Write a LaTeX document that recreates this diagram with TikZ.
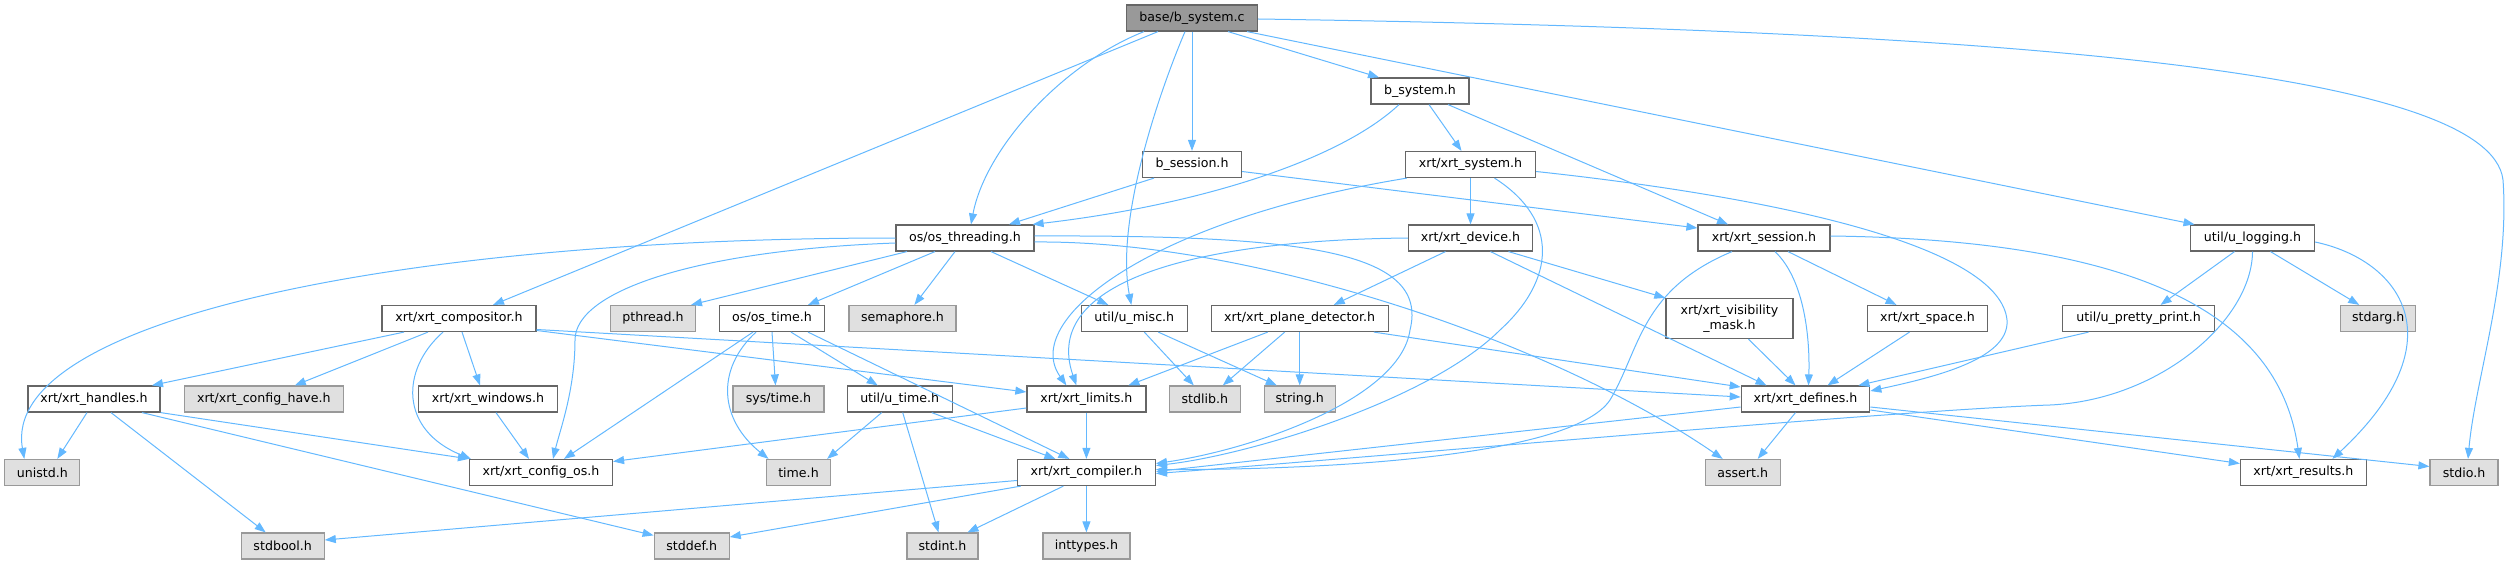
\documentclass[tikz,border=0pt]{standalone}
\usepackage{fontspec}
\setmainfont{DejaVu Sans}
\usetikzlibrary{arrows.meta}
\definecolor{edgec}{HTML}{63B8FF}
\definecolor{bord}{HTML}{666666}
\definecolor{bordg}{HTML}{999999}
\definecolor{fillg}{HTML}{E0E0E0}
\definecolor{rootf}{HTML}{999999}
\tikzset{
  nd/.style={draw=bord, line width=1.2pt, fill=white, minimum height=26pt, inner sep=0pt, align=center,
    font=\fontsize{12.6}{14.5}\selectfont},
  sysn/.style={nd, draw=bordg, fill=fillg},
  rootn/.style={nd, fill=rootf},
  e/.style={draw=edgec, line width=1pt, -{Triangle[length=11pt,width=8pt]}}
}
\begin{document}
\begin{tikzpicture}[x=1pt,y=-1pt]
\useasboundingbox (0,0) rectangle (2507,564);
% nodes
\node[rootn, minimum width=131pt] (root) at (1192,18) {base/b\_system.c};
\node[nd, minimum width=98pt] (bsysh) at (1420,91) {b\_system.h};
\node[nd, minimum width=99pt] (bsess) at (1192,164.5) {b\_session.h};
\node[nd, minimum width=130pt] (xsys) at (1470.5,164.5) {xrt/xrt\_system.h};
\node[nd, minimum width=138pt] (osthr) at (965,238) {os/os\_threading.h};
\node[nd, minimum width=124pt] (xdev) at (1470.5,238) {xrt/xrt\_device.h};
\node[nd, minimum width=132pt] (xsess) at (1764,238) {xrt/xrt\_session.h};
\node[nd, minimum width=124pt] (ulog) at (2252.5,238) {util/u\_logging.h};
\node[nd, minimum width=154pt] (xcomp) at (459,318.5) {xrt/xrt\_compositor.h};
\node[sysn, minimum width=85pt] (pthr) at (653,318.5) {pthread.h};
\node[nd, minimum width=105pt] (ostime) at (772,318.5) {os/os\_time.h};
\node[sysn, minimum width=107pt] (sema) at (902.4,318.5) {semaphore.h};
\node[nd, minimum width=106pt] (umisc) at (1134.3,318.5) {util/u\_misc.h};
\node[nd, minimum width=177pt] (xplane) at (1299.7,318.5) {xrt/xrt\_plane\_detector.h};
\node[nd, minimum width=127pt, minimum height=40pt] (xvis) at (1729.4,318.5) {xrt/xrt\_visibility\\\_mask.h};
\node[nd, minimum width=120pt] (xspace) at (1927.5,318.5) {xrt/xrt\_space.h};
\node[nd, minimum width=152pt] (upretty) at (2138.6,318.5) {util/u\_pretty\_print.h};
\node[sysn, minimum width=75pt] (stdarg) at (2378.2,318.5) {stdarg.h};
\node[nd, minimum width=132pt] (xhand) at (94,399) {xrt/xrt\_handles.h};
\node[sysn, minimum width=159pt] (xchave) at (263.8,399) {xrt/xrt\_config\_have.h};
\node[nd, minimum width=139pt] (xwin) at (488,399) {xrt/xrt\_windows.h};
\node[sysn, minimum width=91pt] (systime) at (778.5,399) {sys/time.h};
\node[nd, minimum width=105pt] (utime) at (899.7,399) {util/u\_time.h};
\node[nd, minimum width=119pt] (xlim) at (1086.4,399) {xrt/xrt\_limits.h};
\node[sysn, minimum width=71pt] (stdlib) at (1204.8,399) {stdlib.h};
\node[sysn, minimum width=71pt] (string) at (1299.7,399) {string.h};
\node[nd, minimum width=128.5pt] (xdef) at (1805.5,399) {xrt/xrt\_defines.h};
\node[sysn, minimum width=75pt] (unistd) at (42.3,472.5) {unistd.h};
\node[nd, minimum width=143pt] (xcos) at (541,472.5) {xrt/xrt\_config\_os.h};
\node[sysn, minimum width=64pt] (timeh) at (798.5,472.5) {time.h};
\node[nd, minimum width=138pt] (xcomp2) at (1086.4,472.5) {xrt/xrt\_compiler.h};
\node[sysn, minimum width=75pt] (assert) at (1742.7,472.5) {assert.h};
\node[nd, minimum width=126pt] (xres) at (2303.4,472.5) {xrt/xrt\_results.h};
\node[sysn, minimum width=68pt] (stdio) at (2464,472.5) {stdio.h};
\node[sysn, minimum width=83pt] (stdbool) at (282.7,546) {stdbool.h};
\node[sysn, minimum width=75pt] (stddef) at (691.7,546) {stddef.h};
\node[sysn, minimum width=71pt] (stdint) at (942.5,546) {stdint.h};
\node[sysn, minimum width=87pt] (inttypes) at (1086.4,546) {inttypes.h};
% root edges
\draw[e] ([xshift=36pt]root.south) -- ([xshift=-41pt]bsysh.north);
\draw[e] (root.south) -- (bsess.north);
\draw[e] ([xshift=-48pt]root.south) .. controls (1060,65) and (985,150) .. ([xshift=6pt]osthr.north);
\draw[e] ([xshift=-34pt]root.south) -- ([xshift=34pt]xcomp.north);
\draw[e] ([xshift=-7pt]root.south) .. controls (1160,90) and (1115,220) .. ([xshift=-3pt]umisc.north);
\draw[e] ([xshift=55pt]root.south) -- ([xshift=-58pt]ulog.north);
\draw[e] ([yshift=-1pt]root.east) .. controls (2000,30) and (2490,70) .. (2503,180) .. controls (2510,280) and (2475,380) .. ([xshift=4pt]stdio.north);
% b_system.h
\draw[e] ([xshift=-21pt]bsysh.south) .. controls (1340,160) and (1200,205) .. ([xshift=-2pt]osthr.north east);
\draw[e] ([xshift=9pt]bsysh.south) -- ([xshift=-9pt]xsys.north);
\draw[e] ([xshift=28pt]bsysh.south) -- ([xshift=-36pt]xsess.north);
% b_session.h
\draw[e] ([xshift=-38pt]bsess.south) -- ([xshift=44pt]osthr.north);
\draw[e] ([yshift=-7pt]bsess.east) -- ([yshift=10pt]xsess.west);
% xrt_system.h
\draw[e] (xsys.south) -- (xdev.north);
\draw[e] ([xshift=2pt]xsys.south west) .. controls (1150,220) and (1020,320) .. ([xshift=-20pt]xlim.north);
\draw[e] ([xshift=24pt]xsys.south) .. controls (1560,220) and (1555,280) .. (1500,330) .. controls (1430,400) and (1250,455) .. ([yshift=7pt]xcomp2.east);
\draw[e] ([yshift=-7pt]xsys.east) .. controls (1800,200) and (2000,250) .. (2007,320) .. controls (2010,360) and (1930,378) .. ([yshift=8pt]xdef.east);
% xrt_device.h
\draw[e] ([xshift=-25pt]xdev.south) -- ([xshift=34pt]xplane.north);
\draw[e] ([xshift=20pt]xdev.south) -- ([xshift=-39pt]xdef.north);
\draw[e] ([xshift=38pt]xdev.south) -- (xvis.north west);
\draw[e] (xdev.west) .. controls (1200,240) and (1040,280) .. ([xshift=-10pt]xlim.north);
% xrt_session.h
\draw[e] ([xshift=24pt]xsess.south) -- ([xshift=-31pt]xspace.north);
\draw[e] ([xshift=11pt]xsess.south) .. controls (1805,280) and (1810,340) .. ([xshift=3pt]xdef.north);
\draw[e] ([xshift=-32pt]xsess.south) .. controls (1640,290) and (1640,350) .. (1610,400) .. controls (1570,460) and (1300,470) .. ([yshift=3pt]xcomp2.east);
\draw[e] ([yshift=2pt]xsess.east) .. controls (2150,240) and (2280,320) .. ([xshift=-4pt]xres.north);
% util/u_logging.h
\draw[e] ([xshift=-18pt]ulog.south) -- ([xshift=22pt]upretty.north);
\draw[e] (ulog.south) .. controls (2252,320) and (2160,400) .. (2050,405) .. controls (1900,410) and (1400,455) .. ([yshift=-1pt]xcomp2.east);
\draw[e] ([xshift=18pt]ulog.south) -- ([xshift=-19pt]stdarg.north);
\draw[e] ([yshift=-4pt]ulog.east) .. controls (2400,260) and (2460,340) .. ([xshift=29pt]xres.north);
% os/os_threading.h
\draw[e] (osthr.west) .. controls (400,238) and (0,320) .. ([xshift=-18pt]unistd.north);
\draw[e] ([yshift=-5pt]osthr.west) .. controls (700,250) and (575,290) .. (575,340) .. controls (575,390) and (560,430) .. ([xshift=12pt]xcos.north);
\draw[e] ([xshift=-58pt]osthr.south) -- ([xshift=38pt]pthr.north);
\draw[e] ([xshift=-30pt]osthr.south) -- ([xshift=36pt]ostime.north);
\draw[e] ([xshift=-10pt]osthr.south) -- ([xshift=12pt]sema.north);
\draw[e] ([xshift=26pt]osthr.south) -- ([xshift=-26pt]umisc.north);
\draw[e] ([yshift=2pt]osthr.east) .. controls (1300,235) and (1430,250) .. (1410,330) .. controls (1400,400) and (1250,450) .. ([yshift=9pt]xcomp2.east);
\draw[e] ([yshift=-4pt]osthr.east) .. controls (1250,240) and (1550,340) .. ([xshift=-20pt]assert.north);
% xrt_compositor.h
\draw[e] ([xshift=-55pt]xcomp.south) -- ([xshift=58pt]xhand.north);
\draw[e] ([xshift=-31pt]xcomp.south) -- ([xshift=31pt]xchave.north);
\draw[e] ([xshift=-16pt]xcomp.south) .. controls (400,370) and (400,430) .. ([xshift=2pt]xcos.north west);
\draw[e] ([xshift=3pt]xcomp.south) -- ([xshift=-8pt]xwin.north);
\draw[e] ([yshift=-12pt]xcomp.east) -- ([yshift=7pt]xlim.west);
\draw[e] ([yshift=-11pt]xcomp.east) -- ([yshift=2pt]xdef.west);
% os/os_time.h
\draw[e] ([xshift=-19pt]ostime.south) -- ([xshift=23pt]xcos.north);
\draw[e] (ostime.south) -- ([xshift=-3pt]systime.north);
\draw[e] ([xshift=-16pt]ostime.south) .. controls (715,370) and (720,420) .. ([xshift=-30pt]timeh.north);
\draw[e] ([xshift=19pt]ostime.south) -- ([xshift=-22pt]utime.north);
\draw[e] ([xshift=36pt]ostime.south) -- ([xshift=-17pt]xcomp2.north);
% xrt_handles.h
\draw[e] ([xshift=-7pt]xhand.south) -- ([xshift=15pt]unistd.north);
\draw[e] ([xshift=17pt]xhand.south) -- ([xshift=-17pt]stdbool.north);
\draw[e] (xhand.south east) -- (xcos.north west);
\draw[e] ([xshift=48pt]xhand.south) -- ([yshift=-3pt]stddef.north west);
% xrt_windows.h
\draw[e] ([xshift=8pt]xwin.south) -- ([xshift=-12pt]xcos.north);
% util/u_time.h
\draw[e] ([xshift=-18pt]utime.south) -- ([xshift=-4pt]timeh.north east);
\draw[e] ([xshift=3pt]utime.south) -- ([xshift=-4pt]stdint.north);
\draw[e] ([xshift=32pt]utime.south) -- ([xshift=-31pt]xcomp2.north);
% xrt_limits.h
\draw[e] (xlim.south) -- (xcomp2.north);
\draw[e] ([yshift=-9pt]xlim.west) -- ([yshift=11pt]xcos.east);
% util/u_misc.h
\draw[e] ([xshift=10pt]umisc.south) -- ([xshift=-11pt]stdlib.north);
\draw[e] ([xshift=24pt]umisc.south) -- ([xshift=-23pt]string.north);
% xrt_plane_detector.h
\draw[e] ([xshift=-32pt]xplane.south) -- ([xshift=42pt]xlim.north);
\draw[e] ([xshift=-15pt]xplane.south) -- ([xshift=18pt]stdlib.north);
\draw[e] (xplane.south) -- (string.north);
\draw[e] ([xshift=-15pt]xplane.south east) -- ([yshift=12pt]xdef.west);
% visibility, space, pretty print
\draw[e] ([xshift=19pt]xvis.south) -- ([xshift=-10pt]xdef.north);
\draw[e] ([xshift=-18pt]xspace.south) -- ([xshift=22pt]xdef.north);
\draw[e] ([xshift=-50pt]upretty.south) -- ([xshift=-12pt]xdef.north east);
% xrt_defines.h
\draw[e] ([xshift=-10pt]xdef.south) -- ([xshift=15pt]assert.north);
\draw[e] ([yshift=-8pt]xdef.west) -- ([yshift=1pt]xcomp2.east);
\draw[e] ([yshift=-11pt]xdef.east) -- ([yshift=9pt]xres.west);
\draw[e] ([yshift=-8pt]xdef.east) -- ([yshift=6pt]stdio.west);
% xrt_compiler.h
\draw[e] ([yshift=-8pt]xcomp2.west) -- ([yshift=6pt]stdbool.east);
\draw[e] ([xshift=4pt]xcomp2.south west) -- ([yshift=9pt]stddef.east);
\draw[e] ([xshift=-23pt]xcomp2.south) -- ([xshift=25pt]stdint.north);
\draw[e] (xcomp2.south) -- (inttypes.north);
\end{tikzpicture}
\end{document}
